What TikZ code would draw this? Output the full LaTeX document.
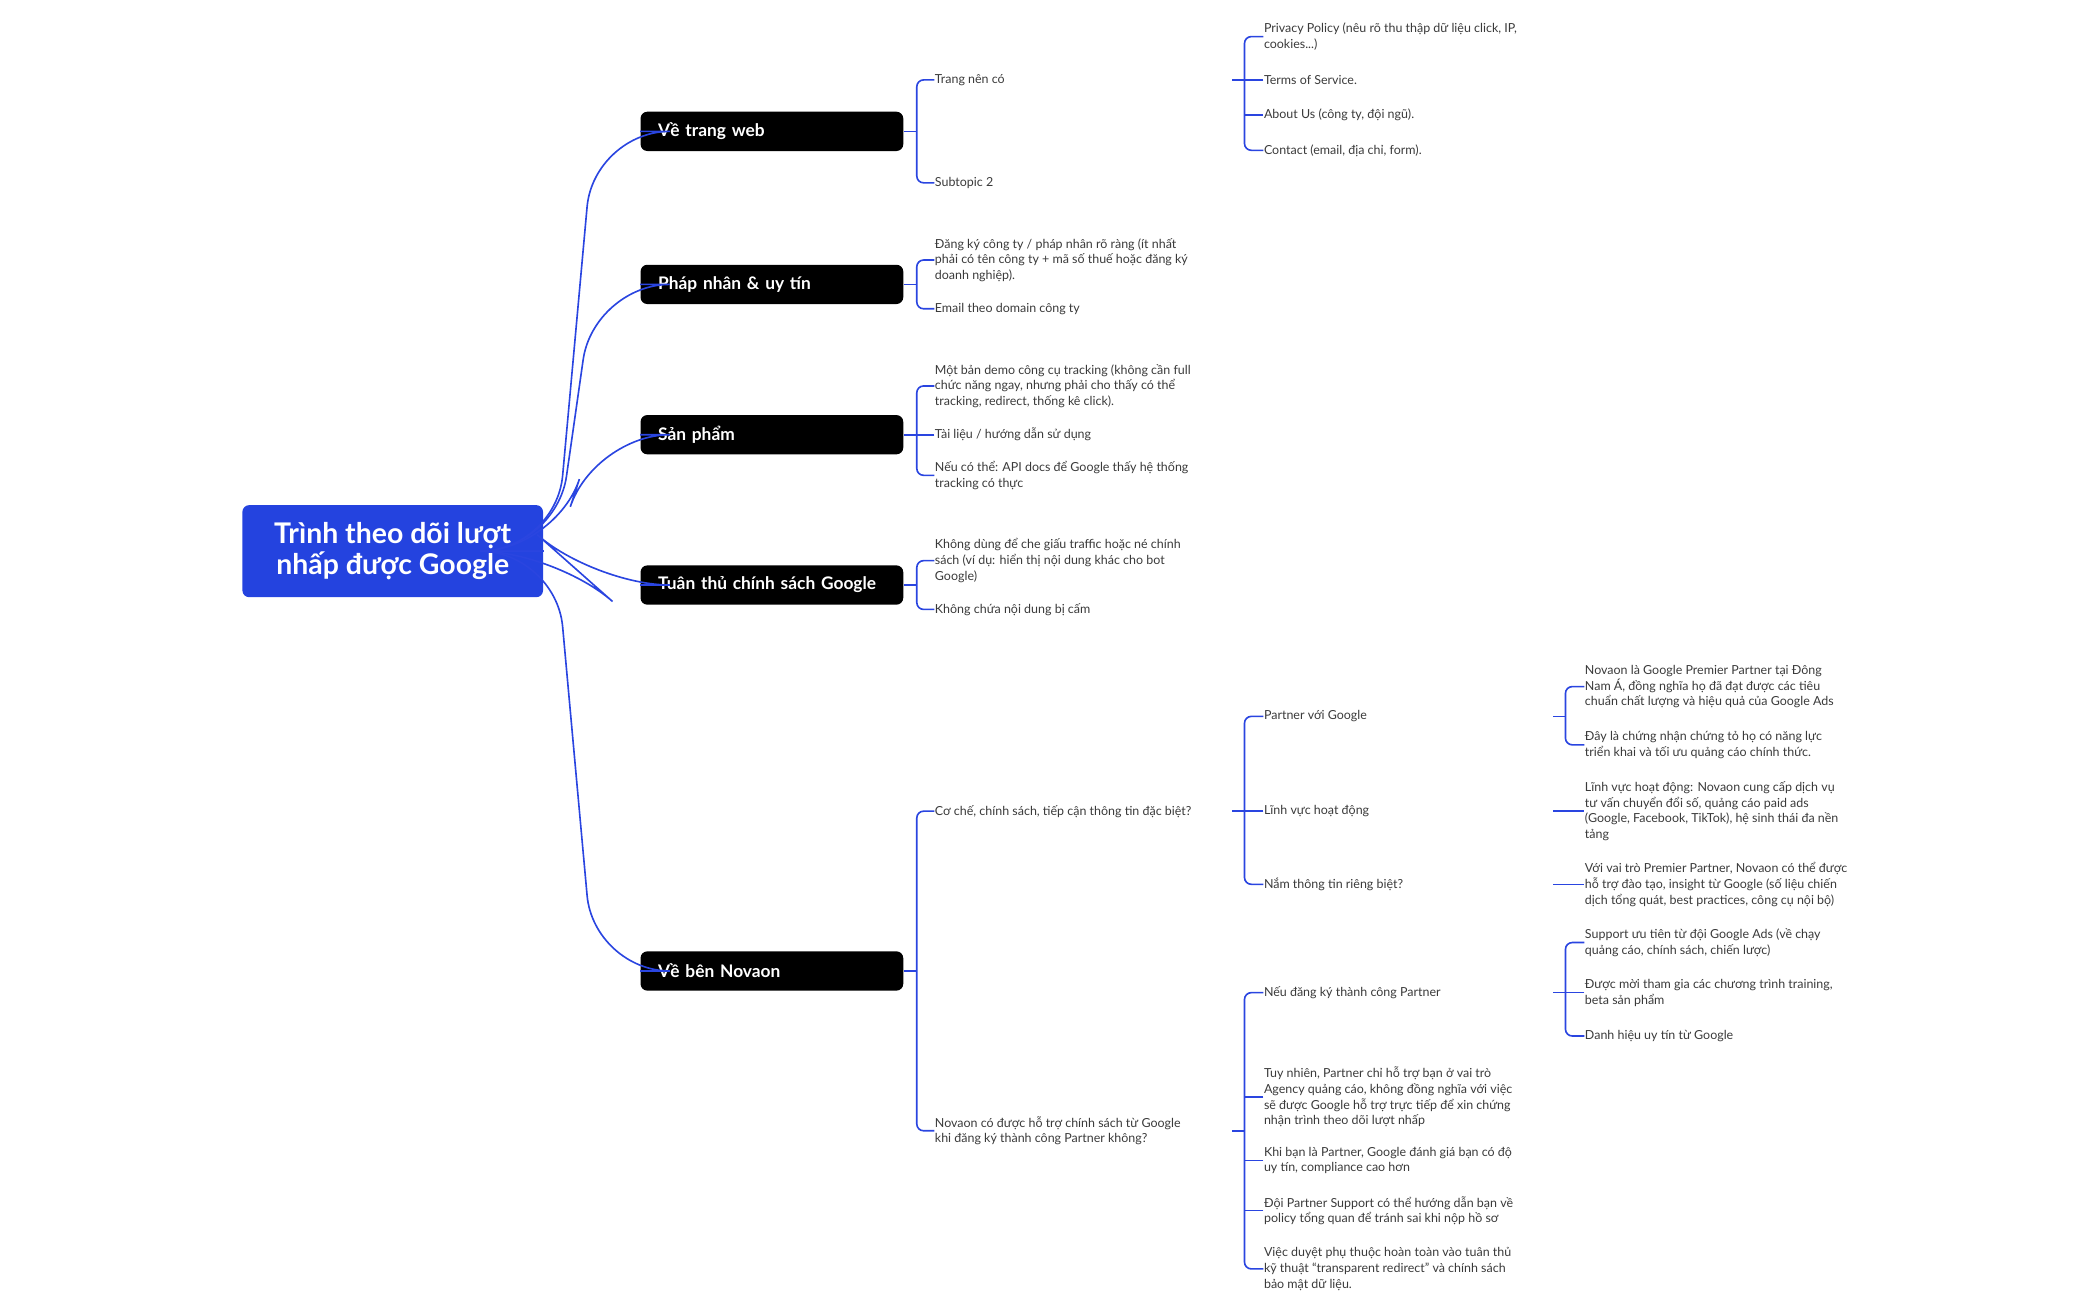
\documentclass[tikz,border=0pt]{standalone}
\usepackage{fontspec}
\setmainfont{Lato}
\usetikzlibrary{calc}
\definecolor{linkblue}{HTML}{2A45E0}
\definecolor{rootblue}{HTML}{2443DF}
\definecolor{leafgray}{HTML}{3A3A3A}
\tikzset{
  rootnode/.style={fill=rootblue, rounded corners=2.5pt, text=white, font=\fontsize{10.5}{11.5}\selectfont\bfseries,
    minimum width=111pt, minimum height=34pt, align=center, inner sep=0pt},
  branchnode/.style={fill=black, rounded corners=2.5pt, text=white, font=\fontsize{6.4}{7}\selectfont\bfseries,
    minimum width=97pt, minimum height=14.5pt, text width=84pt, align=left, inner xsep=6.5pt, inner ysep=0pt},
  leaf/.style={anchor=west, align=left, inner sep=0pt, text=leafgray, font=\fontsize{4.6}{5.8}\selectfont},
  link/.style={draw=linkblue, line width=0.6pt, rounded corners=2.5pt},
}
\begin{document}
\begin{tikzpicture}[x=0.5pt, y=-0.5pt]
    \useasboundingbox (0,0) rectangle (1550,960);
    % Root and main branches
    \node [rootnode] (root) at (290,407) {Trình theo dõi lượt\\nhấp được Google};
    \node [branchnode] (web)     at (570,97)  {Về trang web};
    \node [branchnode] (phapnhan) at (570,210) {Pháp nhân \& uy tín};
    \node [branchnode] (sanpham) at (570,321) {Sản phẩm};
    \node [branchnode] (tuanthu) at (570,432) {Tuân thủ chính sách Google};
    \node [branchnode] (novaon)  at (570,717) {Về bên Novaon};

    % Level 2
    \node [leaf] (trang)   at (690,59)  {Trang nên có};
    \node [leaf] (sub2)    at (690,135) {Subtopic 2};
    \node [leaf] (dangky)  at (690,192) {Đăng ký công ty / pháp nhân rõ ràng (ít nhất\\phải có tên công ty + mã số thuế hoặc đăng ký\\doanh nghiệp).};
    \node [leaf] (email)   at (690,228) {Email theo domain công ty};
    \node [leaf] (demo)    at (690,285) {Một bản demo công cụ tracking (không cần full\\chức năng ngay, nhưng phải cho thấy có thể\\tracking, redirect, thống kê click).};
    \node [leaf] (tailieu) at (690,321) {Tài liệu / hướng dẫn sử dụng};
    \node [leaf] (api)     at (690,351) {Nếu có thể: API docs để Google thấy hệ thống\\tracking có thực};
    \node [leaf] (khongdung) at (690,414) {Không dùng để che giấu traffic hoặc né chính\\sách (ví dụ: hiển thị nội dung khác cho bot\\Google)};
    \node [leaf] (khongchua) at (690,450) {Không chứa nội dung bị cấm};
    \node [leaf] (coche)   at (690,599) {Cơ chế, chính sách, tiếp cận thông tin đặc biệt?};
    \node [leaf] (hotro)   at (690,835) {Novaon có được hỗ trợ chính sách từ Google\\khi đăng ký thành công Partner không?};

    % Level 3
    \node [leaf] (privacy) at (933,27)  {Privacy Policy (nêu rõ thu thập dữ liệu click, IP,\\cookies...)};
    \node [leaf] (terms)   at (933,59)  {Terms of Service.};
    \node [leaf] (about)   at (933,85)  {About Us (công ty, đội ngũ).};
    \node [leaf] (contact) at (933,111) {Contact (email, địa chỉ, form).};
    \node [leaf] (partner) at (933,529) {Partner với Google};
    \node [leaf] (linhvuc) at (933,599) {Lĩnh vực hoạt động};
    \node [leaf] (namtt)   at (933,653) {Nắm thông tin riêng biệt?};
    \node [leaf] (neudk)   at (933,733) {Nếu đăng ký thành công Partner};
    \node [leaf] (tuynhien) at (933,810) {Tuy nhiên, Partner chỉ hỗ trợ bạn ở vai trò\\Agency quảng cáo, không đồng nghĩa với việc\\sẽ được Google hỗ trợ trực tiếp để xin chứng\\nhận trình theo dõi lượt nhấp};
    \node [leaf] (khiban)  at (933,857) {Khi bạn là Partner, Google đánh giá bạn có độ\\uy tín, compliance cao hơn};
    \node [leaf] (doi)     at (933,894) {Đội Partner Support có thể hướng dẫn bạn về\\policy tổng quan để tránh sai khi nộp hồ sơ};
    \node [leaf] (duyet)   at (933,937) {Việc duyệt phụ thuộc hoàn toàn vào tuân thủ\\kỹ thuật “transparent redirect” và chính sách\\bảo mật dữ liệu.};

    % Level 4
    \node [leaf] (premier) at (1170,507) {Novaon là Google Premier Partner tại Đông\\Nam Á, đồng nghĩa họ đã đạt được các tiêu\\chuẩn chất lượng và hiệu quả của Google Ads};
    \node [leaf] (chungnhan) at (1170,550) {Đây là chứng nhận chứng tỏ họ có năng lực\\triển khai và tối ưu quảng cáo chính thức.};
    \node [leaf] (linhvucinfo) at (1170,599) {Lĩnh vực hoạt động: Novaon cung cấp dịch vụ\\tư vấn chuyển đổi số, quảng cáo paid ads\\(Google, Facebook, TikTok), hệ sinh thái đa nền\\tảng};
    \node [leaf] (vaitro)  at (1170,653) {Với vai trò Premier Partner, Novaon có thể được\\hỗ trợ đào tạo, insight từ Google (số liệu chiến\\dịch tổng quát, best practices, công cụ nội bộ)};
    \node [leaf] (support) at (1170,696) {Support ưu tiên từ đội Google Ads (về chạy\\quảng cáo, chính sách, chiến lược)};
    \node [leaf] (moi)     at (1170,733) {Được mời tham gia các chương trình training,\\beta sản phẩm};
    \node [leaf] (danhhieu) at (1170,765) {Danh hiệu uy tín từ Google};

    % Root to branches
    \foreach \b in {web, phapnhan, sanpham, tuanthu, novaon}
        \draw [link, rounded corners=28pt] (root.east) -- ++(9,0) -- ($(\b.west)+(-34,0)$) -- (\b.west);

    % Branches to level 2
    \draw [link] (web.east) -- ++(10,0);
    \draw [link] (trang.west) -- ++(-13,0) |- (sub2.west);
    \draw [link] (phapnhan.east) -- ++(10,0);
    \draw [link] (dangky.west) -- ++(-13,0) |- (email.west);
    \draw [link] (sanpham.east) -- ++(10,0);
    \draw [link] (demo.west) -- ++(-13,0) |- (api.west);
    \draw [link] (tailieu.west) -- ++(-13,0);
    \draw [link] (tuanthu.east) -- ++(10,0);
    \draw [link] (khongdung.west) -- ++(-13,0) |- (khongchua.west);
    \draw [link] (novaon.east) -- ++(10,0);
    \draw [link] (coche.west) -- ++(-13,0) |- (hotro.west);

    % Level 2 to level 3
    \draw [link] ($(trang.west)+(220,0)$) -- ++(9,0);
    \draw [link] (privacy.west) -- ++(-14,0) |- (contact.west);
    \foreach \c in {terms, about}
        \draw [link] (\c.west) -- ++(-14,0);
    \draw [link] ($(coche.west)+(220,0)$) -- ++(9,0);
    \draw [link] (partner.west) -- ++(-14,0) |- (namtt.west);
    \draw [link] (linhvuc.west) -- ++(-14,0);
    \draw [link] ($(hotro.west)+(220,0)$) -- ++(9,0);
    \draw [link] (neudk.west) -- ++(-14,0) |- (duyet.west);
    \foreach \c in {tuynhien, khiban, doi}
        \draw [link] (\c.west) -- ++(-14,0);

    % Level 3 to level 4
    \draw [link] ($(partner.west)+(214,0)$) -- ++(9,0);
    \draw [link] (premier.west) -- ++(-14,0) |- (chungnhan.west);
    \draw [link] ($(linhvuc.west)+(214,0)$) -- (linhvucinfo.west);
    \draw [link] ($(namtt.west)+(214,0)$) -- (vaitro.west);
    \draw [link] ($(neudk.west)+(214,0)$) -- ++(9,0);
    \draw [link] (support.west) -- ++(-14,0) |- (danhhieu.west);
    \draw [link] (moi.west) -- ++(-14,0);
\end{tikzpicture}
\end{document}
